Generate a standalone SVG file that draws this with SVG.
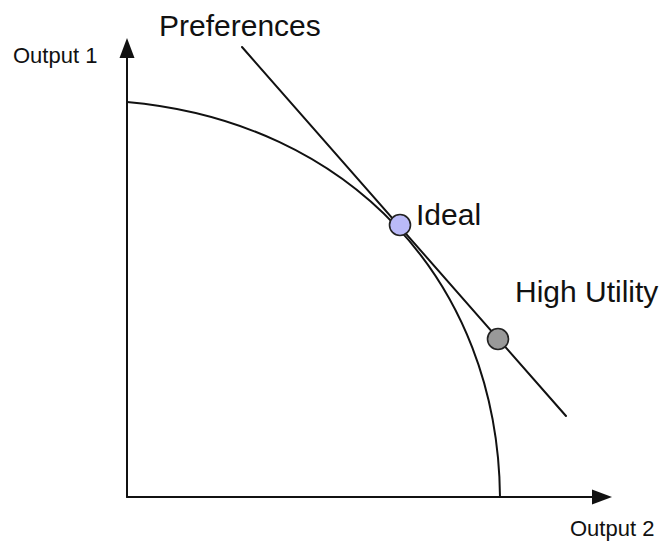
<svg xmlns="http://www.w3.org/2000/svg" width="672" height="543" viewBox="0 0 672 543">
  <style>
    .ln { fill: none; stroke: #111; stroke-width: 2; stroke-linecap: round; }
    .lbl { font-family: "Liberation Sans", Arial, sans-serif; fill: #111; }
    .dot { stroke: #222; stroke-width: 1.6; }
  </style>
  <defs>
    <marker id="arr" markerUnits="userSpaceOnUse" markerWidth="20" markerHeight="15" refX="0" refY="7.5" orient="auto" overflow="visible">
      <path d="M0,0 L20,7.5 L0,15 Z" fill="#111"/>
    </marker>
  </defs>
  <rect width="672" height="543" fill="#fff"/>

  <g id="connectors">
    <line id="axis-y" class="ln" x1="127" y1="497" x2="127" y2="58" marker-end="url(#arr)"/>
    <line id="axis-x" class="ln" x1="127" y1="497" x2="592" y2="497" marker-end="url(#arr)"/>
    <path id="frontier" class="ln" d="M127,102 C350,122 498,282 500,497"/>
    <line id="preferences-line" class="ln" x1="242" y1="47" x2="566" y2="416"/>
  </g>

  <g id="ideal">
    <circle class="dot" cx="400" cy="225" r="10.5" fill="#babaf8"/>
    <text class="lbl" x="416" y="225" font-size="30">Ideal</text>
  </g>

  <g id="high-utility">
    <circle class="dot" cx="498" cy="339" r="10.5" fill="#999"/>
    <text class="lbl" x="515" y="302" font-size="30">High Utility</text>
  </g>

  <g id="preferences">
    <text class="lbl" x="159" y="36" font-size="30">Preferences</text>
  </g>

  <g id="labels">
    <text class="lbl" x="13" y="63" font-size="22">Output 1</text>
    <text class="lbl" x="570" y="536" font-size="22">Output 2</text>
  </g>
</svg>
